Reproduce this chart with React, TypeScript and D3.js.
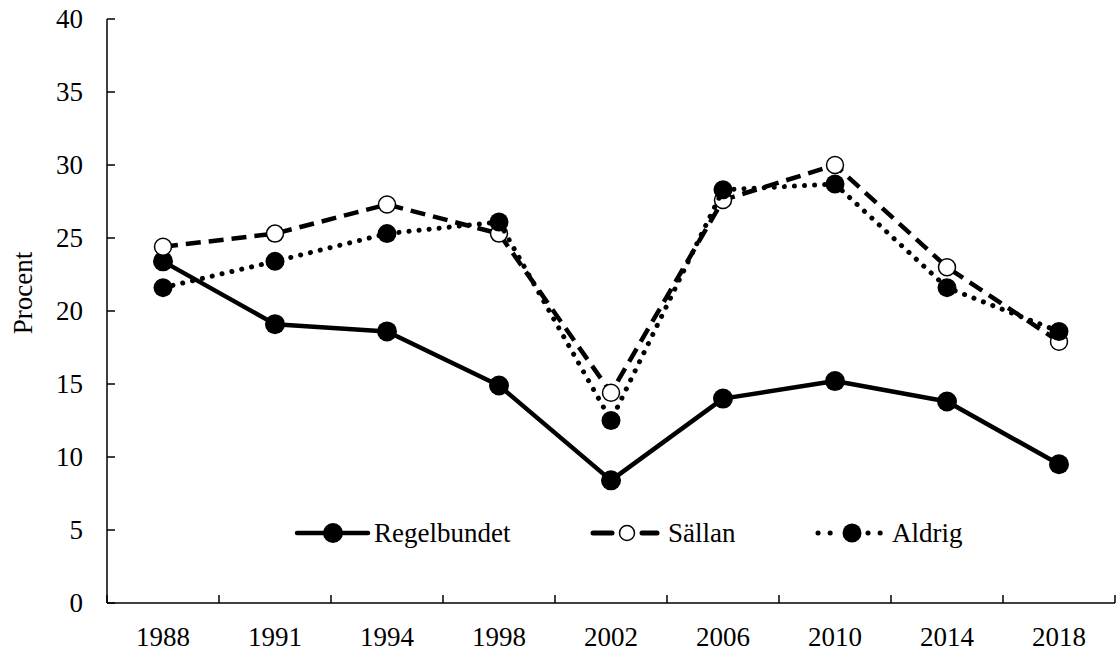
import React from "react";
import * as d3 from "d3";

const years = ["1988", "1991", "1994", "1998", "2002", "2006", "2010", "2014", "2018"];
const regelbundet = [23.4, 19.1, 18.6, 14.9, 8.4, 14.0, 15.2, 13.8, 9.5];
const sallan = [24.4, 25.3, 27.3, 25.3, 14.4, 27.6, 30.0, 23.0, 17.9];
const aldrig = [21.6, 23.4, 25.3, 26.1, 12.5, 28.3, 28.7, 21.6, 18.6];
const yTicks = [0, 5, 10, 15, 20, 25, 30, 35, 40];
const seriesNames = ["Regelbundet", "Sällan", "Aldrig"];

const W = 1117;
const H = 653;
const FONT = "'Liberation Serif', 'Times New Roman', serif";
const FS = 27;

export default function App() {
  const x = d3.scaleBand<string>().domain(years).range([107, 1115]);
  const y = d3.scaleLinear().domain([0, 40]).range([603, 19]);
  const cx = (d: string) => (x(d) as number) + x.bandwidth() / 2;
  const line = (vals: number[]) =>
    d3
      .line<number>()
      .x((_, i) => cx(years[i]))
      .y((v) => y(v))(vals) as string;

  const boundaries = years.map((d) => x(d) as number).concat([1115]);

  const styles = [
    { stroke: 4.5, dash: undefined as string | undefined, cap: "butt" },
    { stroke: 4.5, dash: "15 8", cap: "butt" },
    { stroke: 5, dash: "0.1 10", cap: "round" },
  ];

  const ly = 533;

  const marker = (i: number, mx: number, my: number, key: string, legend = false) => {
    if (i === 1)
      return <circle key={key} cx={mx} cy={my} r={legend ? 7.5 : 8.5} fill="#fff" stroke="#000" strokeWidth={1.5} />;
    return <circle key={key} cx={mx} cy={my} r={i === 0 ? 10 : 9.5} fill="#000" />;
  };

  const data = [regelbundet, sallan, aldrig];

  return (
    <svg width={W} height={H} style={{ position: "absolute", left: 0, top: 0, background: "#fff" }}>
      <rect x={0} y={0} width={W} height={H} fill="#fff" />
      {/* axes */}
      <line x1={107} y1={y(0)} x2={1115} y2={y(0)} stroke="#000" strokeWidth={1.5} />
      <line x1={107} y1={y(0)} x2={107} y2={y(40)} stroke="#000" strokeWidth={1.5} />
      {yTicks.map((t) => (
        <g key={"yt" + t}>
          <line x1={107} x2={115} y1={y(t)} y2={y(t)} stroke="#000" strokeWidth={1.5} />
          <text x={83} y={y(t) + 9} textAnchor="end" fontFamily={FONT} fontSize={FS}>
            {t}
          </text>
        </g>
      ))}
      {boundaries.map((b, i) => (
        <line key={"xt" + i} x1={b} x2={b} y1={y(0)} y2={y(0) - 8} stroke="#000" strokeWidth={1.5} />
      ))}
      {years.map((d) => (
        <text key={"xl" + d} x={cx(d)} y={646} textAnchor="middle" fontFamily={FONT} fontSize={FS}>
          {d}
        </text>
      ))}
      <text
        transform={`translate(32, 293) rotate(-90)`}
        textAnchor="middle"
        fontFamily={FONT}
        fontSize={FS}
      >
        Procent
      </text>
      {/* series */}
      {data.map((vals, i) => (
        <g key={"s" + i}>
          <path
            d={line(vals)}
            fill="none"
            stroke="#000"
            strokeWidth={styles[i].stroke}
            strokeDasharray={styles[i].dash}
            strokeLinecap={styles[i].cap as any}
            strokeLinejoin="round"
          />
          {vals.map((v, j) => marker(i, cx(years[j]), y(v), `m${i}-${j}`))}
        </g>
      ))}
      {/* legend */}
      <g>
        <line x1={297} x2={368} y1={ly} y2={ly} stroke="#000" strokeWidth={4.5} strokeLinecap="round" />
        {marker(0, 333, ly, "lm0", true)}
        <text x={374} y={542} fontFamily={FONT} fontSize={FS}>
          {seriesNames[0]}
        </text>
      </g>
      <g>
        <line x1={593} x2={612} y1={ly} y2={ly} stroke="#000" strokeWidth={5} strokeLinecap="round" />
        <line x1={642} x2={657} y1={ly} y2={ly} stroke="#000" strokeWidth={5} strokeLinecap="round" />
        {marker(1, 627, ly, "lm1", true)}
        <text x={668} y={542} fontFamily={FONT} fontSize={FS}>
          {seriesNames[1]}
        </text>
      </g>
      <g>
        <line x1={818} x2={831} y1={ly} y2={ly} stroke="#000" strokeWidth={5} strokeDasharray="0.1 12" strokeLinecap="round" />
        <line x1={868} x2={881} y1={ly} y2={ly} stroke="#000" strokeWidth={5} strokeDasharray="0.1 12" strokeLinecap="round" />
        {marker(2, 852, ly, "lm2", true)}
        <text x={892} y={542} fontFamily={FONT} fontSize={FS}>
          {seriesNames[2]}
        </text>
      </g>
    </svg>
  );
}
